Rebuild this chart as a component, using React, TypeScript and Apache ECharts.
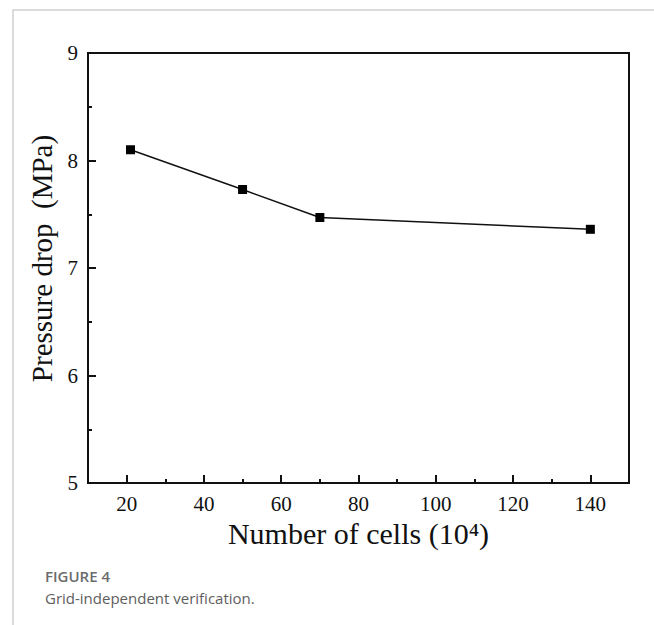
import React, { useEffect, useRef } from "react";
import * as echarts from "echarts";

const cells = [21, 50, 70, 140];
const pressureDrop = [8.1, 7.73, 7.47, 7.36];
const xMajorTicks = [20, 40, 60, 80, 100, 120, 140];
const xMinorTicks = [30, 50, 70, 90, 110, 130];
const xTitle = "Number of cells (10\u2074)";
const yTitle = "Pressure drop  (MPa)";
const captionLabel = "FIGURE 4";
const captionText = "Grid-independent verification.";

const serif = "'Liberation Serif', 'Times New Roman', serif";
const sans = "'Open Sans', 'Noto Sans', sans-serif";

export default function App() {
  const ref = useRef<HTMLDivElement>(null);
  useEffect(() => {
    if (!ref.current) return;
    document.body.style.margin = "0";
    const chart = echarts.init(ref.current, undefined, { renderer: "svg" });
    const axisLineStyle = { color: "#111", width: 2 };
    chart.setOption({
      animation: false,
      backgroundColor: "#fff",
      grid: {
        left: 88,
        top: 53,
        right: 25,
        bottom: 142,
        show: true,
        borderColor: "#111",
        borderWidth: 2,
        backgroundColor: "transparent",
      },
      xAxis: [
        {
          type: "value",
          position: "bottom",
          min: 10,
          max: 150,
          interval: 10,
          axisLine: { show: true, lineStyle: axisLineStyle },
          axisTick: {
            show: true,
            inside: true,
            length: 8,
            customValues: xMajorTicks,
            lineStyle: { color: "#111", width: 2 },
          },
          axisLabel: {
            customValues: xMajorTicks,
            fontFamily: serif,
            fontSize: 21,
            color: "#111",
            margin: 10,
          },
          splitLine: { show: false },
          name: xTitle,
          nameLocation: "middle",
          nameGap: 32,
          nameTextStyle: { fontFamily: serif, fontSize: 30, color: "#111" },
        },
        {
          type: "value",
          position: "bottom",
          min: 10,
          max: 150,
          interval: 10,
          axisLine: { show: false },
          axisTick: {
            show: true,
            inside: true,
            length: 4,
            customValues: xMinorTicks,
            lineStyle: { color: "#111", width: 2 },
          },
          axisLabel: { show: false },
          splitLine: { show: false },
        },
      ],
      yAxis: {
        type: "value",
        min: 5,
        max: 9,
        interval: 1,
        axisLine: { show: true, lineStyle: axisLineStyle },
        axisTick: {
          show: true,
          inside: true,
          length: 8,
          lineStyle: { color: "#111", width: 2 },
        },
        minorTick: {
          show: true,
          splitNumber: 2,
          length: 4,
          lineStyle: { color: "#111", width: 2 },
        },
        axisLabel: {
          fontFamily: serif,
          fontSize: 21,
          color: "#111",
          margin: 10,
        },
        splitLine: { show: false },
        name: yTitle,
        nameLocation: "middle",
        nameGap: 27,
        nameTextStyle: {
          fontFamily: serif,
          fontSize: 29,
          color: "#111",
          padding: [0, 0, 0, 19],
        },
      },
      series: [
        {
          type: "line",
          xAxisIndex: 0,
          data: cells.map((c, i) => [c, pressureDrop[i]]),
          symbol: "rect",
          symbolSize: 9,
          showSymbol: true,
          itemStyle: { color: "#000" },
          lineStyle: { color: "#111", width: 1.4 },
          z: 5,
        },
      ],
      graphic: [
        {
          type: "rect",
          shape: { x: 13, y: 10, width: 700, height: 700 },
          style: { fill: "none", stroke: "#cfcfcf", lineWidth: 1.5 },
          silent: true,
        },
        {
          type: "text",
          left: 45,
          top: 568,
          style: {
            text: captionLabel,
            fontFamily: sans,
            fontSize: 15,
            lineHeight: 15,
            fontWeight: 600,
            fill: "#6b6b6b",
          },
        },
        {
          type: "text",
          left: 45,
          top: 590,
          style: {
            text: captionText,
            fontFamily: sans,
            fontSize: 15,
            lineHeight: 16,
            fill: "#5e5e5e",
          },
        },
      ],
    });
    return () => chart.dispose();
  }, []);
  return (
    <div
      ref={ref}
      style={{ position: "absolute", left: 0, top: 0, width: 654, height: 625 }}
    />
  );
}
